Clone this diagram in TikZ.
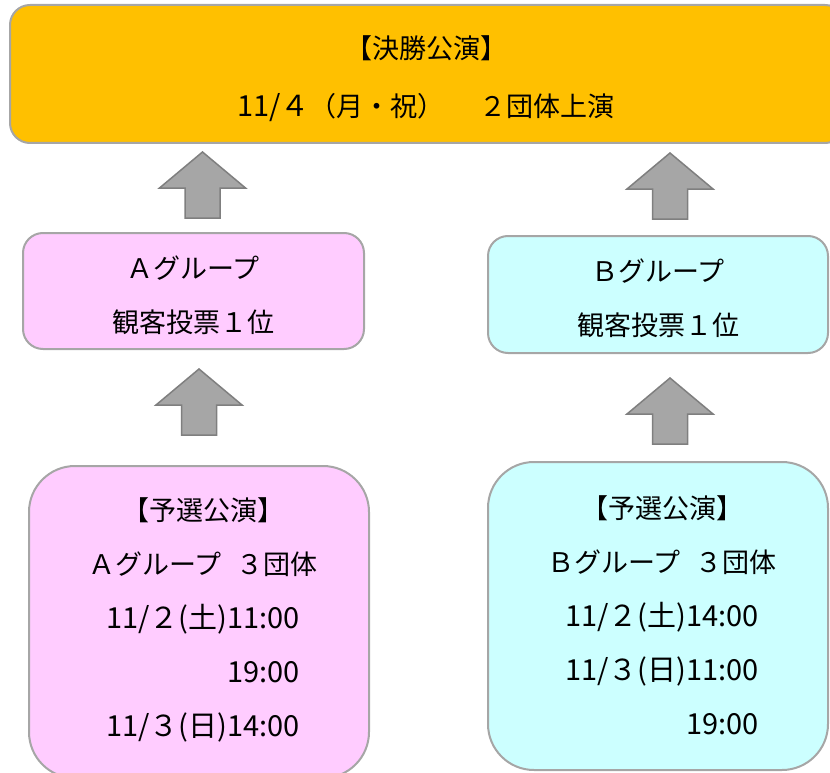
\documentclass[tikz,border=0pt]{standalone}
\usepackage{fontspec}
\setmainfont{Noto Sans CJK JP}
\usetikzlibrary{positioning}
\definecolor{finalfill}{HTML}{FFC000}
\definecolor{pinkfill}{HTML}{FFCCFF}
\definecolor{cyanfill}{HTML}{CCFFFF}
\definecolor{edgegray}{HTML}{A6A6A6}
\definecolor{arrgray}{HTML}{A6A6A6}
\definecolor{arredge}{HTML}{7F7F7F}
\tikzstyle{stage}=[rectangle, rounded corners=20pt, line width=2pt, draw=edgegray]
\tikzstyle{prelim}=[stage, rounded corners=46pt, minimum width=340pt]
\tikzstyle{lines}=[align=center, inner sep=0pt, font=\fontsize{27}{54}\selectfont]
\tikzstyle{blockarr}=[fill=arrgray, draw=arredge, line width=1.5pt, line join=miter]
\newcommand{\bigup}[1]{\draw[blockarr] (#1) -- ++(43,36) -- ++(-25.5,0) -- ++(0,30) -- ++(-35,0) -- ++(0,-30) -- ++(-25.5,0) -- cycle;}
\newcommand{\gap}{\hspace{0.55em}}
\newcommand{\dt}[1]{{\fontsize{29}{54}\selectfont #1}}

\begin{document}
\begin{tikzpicture}[x=1pt,y=-1pt]
  \useasboundingbox (0,0) rectangle (830,773);
  \node[stage, fill=finalfill, minimum width=835pt, minimum height=138pt] (final) at (427.5,74) {};
  \node[stage, fill=pinkfill, minimum width=341pt, minimum height=116pt] (grpA) at (193.5,291) {};
  \node[stage, fill=cyanfill, minimum width=340pt, minimum height=117pt] (grpB) at (658,294.5) {};
  \node[prelim, fill=pinkfill, minimum height=312pt] (preA) at (199,622) {};
  \node[prelim, fill=cyanfill, minimum height=308pt] (preB) at (658,616) {};

  \node[lines, font=\fontsize{27}{58}\selectfont] (finaltxt) at (426,79) {【決勝公演】\\\dt{11/４}（月・祝）\hspace{1.3em}２団体上演};
  \node[lines] (grpAtxt) at (193,295) {Ａグループ\\観客投票１位};
  \node[lines] (grpBtxt) at (658,298.5) {Ｂグループ\\観客投票１位};
  \node[lines] (preAtxt) at (203,620) {【予選公演】\\Ａグループ\gap ３団体\\\dt{11/２(土)11:00}\\\dt{\hphantom{11/２(土)}19:00}\\\dt{11/３(日)14:00}};
  \node[lines] (preBtxt) at (662,615.5) {【予選公演】\\Ｂグループ\gap ３団体\\\dt{11/２(土)14:00}\\\dt{11/３(日)11:00}\\\dt{\hphantom{11/３(日)}19:00}};

  \coordinate (tipA1) at (202.5,152);
  \coordinate (tipB1) at (670,153);
  \coordinate (tipA2) at (199,369);
  \coordinate (tipB2) at (670,378);
  \bigup{tipA1}
  \bigup{tipB1}
  \bigup{tipA2}
  \bigup{tipB2}
\end{tikzpicture}
\end{document}
